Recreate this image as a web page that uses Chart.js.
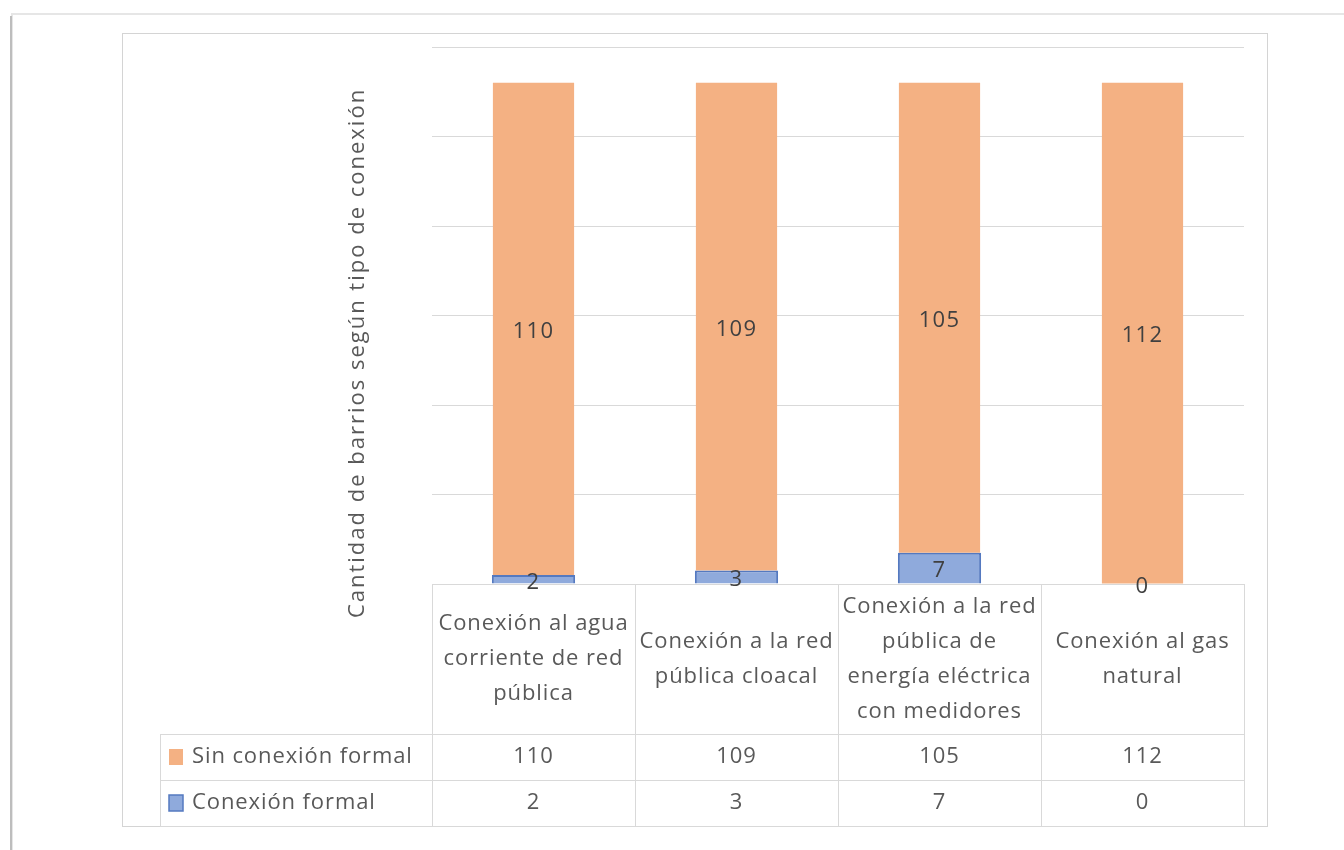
<!DOCTYPE html>
<html>
<head>
<meta charset="utf-8">
<script src="https://cdn.jsdelivr.net/npm/chart.js@4.4.1/dist/chart.umd.min.js"></script>
<style>
  html, body { margin: 0; padding: 0; background: #ffffff; }
  #wrap { width: 1344px; height: 850px; }
</style>
</head>
<body>
<div id="wrap"><canvas id="chart" width="1344" height="850"></canvas></div>
<script>
// category labels, already wrapped the way the original table shows them
const categories = [
  ['Conexión al agua', 'corriente de red', 'pública'],
  ['Conexión a la red', 'pública cloacal'],
  ['Conexión a la red', 'pública de', 'energía eléctrica', 'con medidores'],
  ['Conexión al gas', 'natural']
];
const seriesNames = ['Conexión formal', 'Sin conexión formal'];
const conexionFormal = [2, 3, 7, 0];
const sinConexionFormal = [110, 109, 105, 112];
const yMax = 120;
const yStep = 20;
const yTitle = 'Cantidad de barrios según tipo de conexión';

const colors = {
  orange: '#f4b183',
  blue: '#8faadc',
  blueBorder: '#5479c0',
  grid: '#d9d9d9',
  frame: '#d4d4d4',
  text: '#595959',
  label: '#404040'
};
const FONT = '"Open Sans", "Noto Sans", sans-serif';

function setSpacing(ctx, px) {
  if ('letterSpacing' in ctx) ctx.letterSpacing = px + 'px';
}

// white page + the two frames (outer sheet and chart border)
const framePlugin = {
  id: 'frames',
  beforeDraw(chart) {
    const ctx = chart.ctx;
    ctx.save();
    ctx.fillStyle = '#ffffff';
    ctx.fillRect(0, 0, chart.width, chart.height);
    ctx.strokeStyle = '#e6e6e6';
    ctx.lineWidth = 2;
    ctx.beginPath();
    ctx.moveTo(12, 860);
    ctx.lineTo(12, 14);
    ctx.lineTo(1360, 14);
    ctx.stroke();
    ctx.strokeStyle = '#bdbdbd';
    ctx.lineWidth = 2;
    ctx.beginPath();
    ctx.moveTo(11, 860);
    ctx.lineTo(11, 16);
    ctx.stroke();
    ctx.strokeStyle = colors.frame;
    ctx.lineWidth = 1;
    ctx.strokeRect(122.5, 33.5, 1145, 793);
    ctx.restore();
  }
};

// y title, data labels and the data table under the plot
const tablePlugin = {
  id: 'dataTable',
  afterDraw(chart) {
    const ctx = chart.ctx;
    const area = chart.chartArea;
    const xs = chart.scales.x;
    const n = categories.length;
    const colW = (area.right - area.left) / n;
    const top = area.bottom;
    const headBottom = 734;
    const row1 = 780;
    const bottom = 826;
    const legendLeft = 160;

    ctx.save();
    // axis title
    ctx.translate(358, 353);
    ctx.rotate(-Math.PI / 2);
    ctx.fillStyle = colors.text;
    ctx.font = '22px ' + FONT;
    setSpacing(ctx, 2);
    ctx.textAlign = 'center';
    ctx.textBaseline = 'middle';
    ctx.fillText(yTitle, 0, 0);
    ctx.restore();

    // data labels on segments
    ctx.save();
    ctx.fillStyle = colors.label;
    ctx.font = '22px ' + FONT;
    setSpacing(ctx, 1.2);
    ctx.textAlign = 'center';
    ctx.textBaseline = 'middle';
    chart.data.datasets.forEach((ds, di) => {
      chart.getDatasetMeta(di).data.forEach((el, i) => {
        const cy = (el.y + el.base) / 2;
        ctx.fillText(String(ds.data[i]), el.x, cy + 3);
      });
    });
    ctx.restore();

    // table grid
    ctx.save();
    ctx.strokeStyle = colors.grid;
    ctx.lineWidth = 1;
    ctx.beginPath();
    for (let i = 0; i <= n; i++) {
      const x = Math.round(area.left + i * colW) + 0.5;
      ctx.moveTo(x, top);
      ctx.lineTo(x, bottom);
    }
    ctx.moveTo(legendLeft + 0.5, headBottom);
    ctx.lineTo(legendLeft + 0.5, bottom);
    [headBottom, row1, bottom].forEach(y => {
      ctx.moveTo(legendLeft, y + 0.5);
      ctx.lineTo(area.right, y + 0.5);
    });
    ctx.stroke();

    // header labels
    ctx.fillStyle = colors.text;
    ctx.font = '22px ' + FONT;
    setSpacing(ctx, 0.9);
    ctx.textAlign = 'center';
    ctx.textBaseline = 'middle';
    const lineH = 35;
    const headMid = (top + headBottom) / 2;
    categories.forEach((lines, i) => {
      const cx = xs.getPixelForValue(i);
      const y0 = headMid - (lines.length - 1) * lineH / 2;
      lines.forEach((t, k) => ctx.fillText(t, cx, y0 + k * lineH));
    });

    // rows: first the orange series, then the blue one
    const rows = [
      { name: seriesNames[1], values: sinConexionFormal, fill: colors.orange, stroke: null, y: (headBottom + row1) / 2 },
      { name: seriesNames[0], values: conexionFormal, fill: colors.blue, stroke: colors.blueBorder, y: (row1 + bottom) / 2 }
    ];
    rows.forEach(r => {
      ctx.fillStyle = r.fill;
      ctx.fillRect(169, r.y - 8, 14, 16);
      if (r.stroke) {
        ctx.strokeStyle = r.stroke;
        ctx.lineWidth = 1.5;
        ctx.strokeRect(169, r.y - 8, 14, 16);
      }
      ctx.fillStyle = colors.text;
      ctx.textAlign = 'left';
      ctx.fillText(r.name, 192, r.y);
      ctx.textAlign = 'center';
      r.values.forEach((v, i) => ctx.fillText(String(v), xs.getPixelForValue(i), r.y));
    });
    ctx.restore();
  }
};

new Chart(document.getElementById('chart'), {
  type: 'bar',
  data: {
    labels: categories.map(l => l.join(' ')),
    datasets: [
      {
        label: seriesNames[0],
        data: conexionFormal,
        backgroundColor: colors.blue,
        borderColor: colors.blueBorder,
        borderWidth: 2,
        barPercentage: 0.41,
        categoryPercentage: 1
      },
      {
        label: seriesNames[1],
        data: sinConexionFormal,
        backgroundColor: colors.orange,
        borderWidth: 0,
        barPercentage: 0.4,
        categoryPercentage: 1
      }
    ]
  },
  options: {
    responsive: false,
    animation: false,
    devicePixelRatio: 1,
    layout: { padding: { left: 432, top: 47, right: 100, bottom: 266 } },
    plugins: {
      legend: { display: false },
      tooltip: { enabled: false },
      title: { display: false }
    },
    scales: {
      x: {
        stacked: true,
        display: false
      },
      y: {
        stacked: true,
        min: 0,
        max: yMax,
        ticks: { display: false, stepSize: yStep },
        border: { display: false },
        grid: { color: colors.grid, lineWidth: 1, drawTicks: false },
        afterFit(scale) { scale.width = 0; }
      }
    }
  },
  plugins: [framePlugin, tablePlugin]
});
</script>
</body>
</html>
